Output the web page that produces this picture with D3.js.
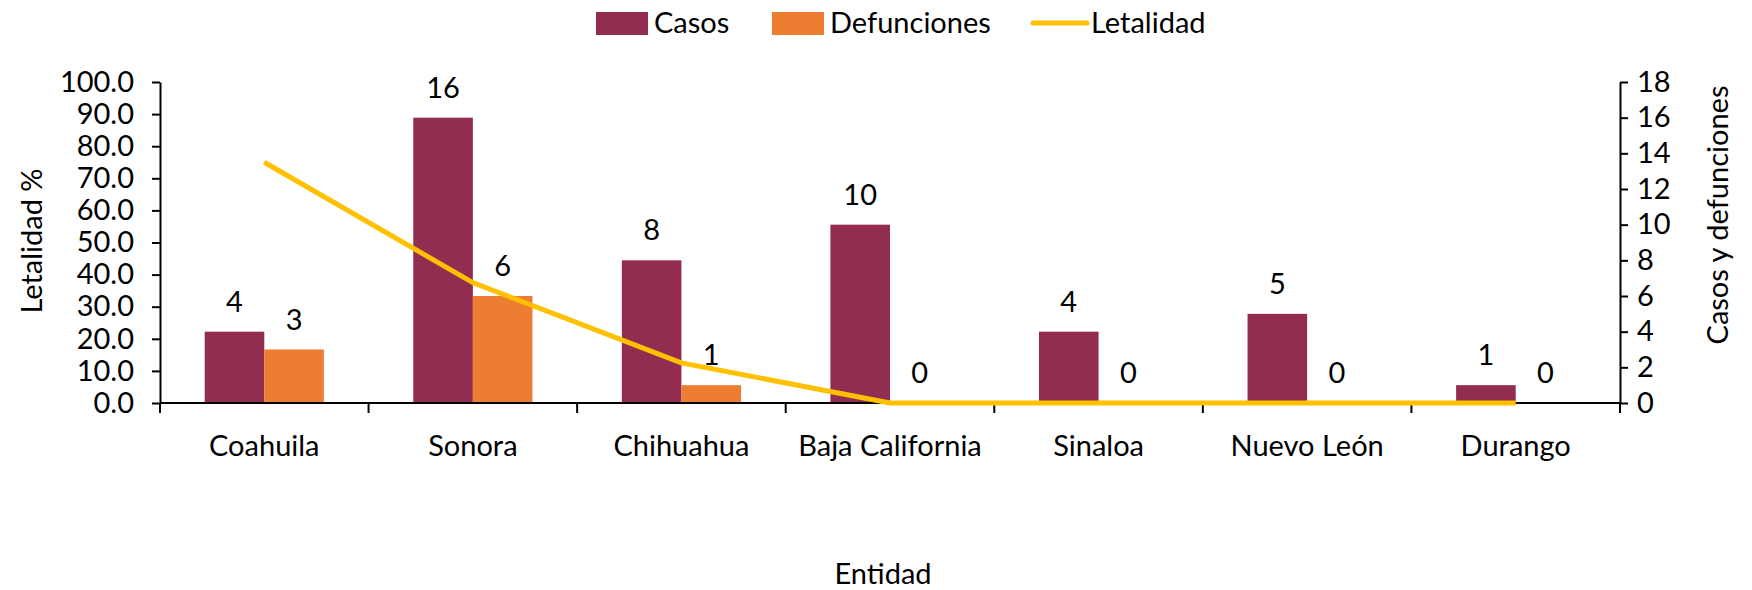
<!DOCTYPE html>
<html>
<head>
<meta charset="utf-8">
<script src="https://cdn.jsdelivr.net/npm/d3@7"></script>
<style>
  body { margin: 0; background: #fff; }
  svg text { font-family: Lato, "Open Sans", sans-serif; fill: #000; }
</style>
</head>
<body>
<div id="chart"></div>
<script>
const entidades = ['Coahuila', 'Sonora', 'Chihuahua', 'Baja California', 'Sinaloa', 'Nuevo León', 'Durango'];
const casos = [4, 16, 8, 10, 4, 5, 1];
const defunciones = [3, 6, 1, 0, 0, 0, 0];
const letalidad = [75.0, 37.5, 12.5, 0, 0, 0, 0];
const leftTicks = [0, 10, 20, 30, 40, 50, 60, 70, 80, 90, 100];
const rightTicks = [0, 2, 4, 6, 8, 10, 12, 14, 16, 18];
const seriesNames = ['Casos', 'Defunciones', 'Letalidad'];

const W = 1752, H = 590;
const margin = {top: 82, right: 132, bottom: 187, left: 160};
const width = W - margin.left - margin.right,
  height = H - margin.top - margin.bottom;
const colors = {Casos: '#922C50', Defunciones: '#ED7D31', Letalidad: '#FFC000'};
const fontSize = 29;

const svg = d3.select('#chart').append('svg')
  .attr('width', W)
  .attr('height', H);

const g = svg.append('g')
  .attr('transform', 'translate(' + margin.left + ',' + margin.top + ')');

const x = d3.scaleBand().domain(entidades).range([0, width]);
const x1 = d3.scaleBand().domain(['Casos', 'Defunciones'])
  .range([0, x.bandwidth()]).paddingOuter(0.75);
const yL = d3.scaleLinear().domain([0, 100]).range([height, 0]);
const yR = d3.scaleLinear().domain([0, 18]).range([height, 0]);

const data = entidades.map((e, i) => ({e, Casos: casos[i], Defunciones: defunciones[i], L: letalidad[i]}));

// bars
const groups = g.selectAll('.grp')
  .data(data)
  .enter().append('g')
  .attr('transform', d => 'translate(' + x(d.e) + ',0)');

['Casos', 'Defunciones'].forEach(k => {
  groups.append('rect')
    .attr('x', x1(k))
    .attr('width', x1.bandwidth())
    .attr('y', d => yR(d[k]))
    .attr('height', d => height - yR(d[k]))
    .attr('fill', colors[k]);
  groups.append('text')
    .attr('x', x1(k) + x1.bandwidth() / 2)
    .attr('y', d => yR(d[k]) - 20)
    .attr('text-anchor', 'middle')
    .style('font-size', fontSize + 'px')
    .text(d => d[k]);
});

// axes
const axisL = g.append('g')
  .call(d3.axisLeft(yL).tickValues(leftTicks).tickFormat(d3.format('.1f')).tickSize(8).tickSizeOuter(0).tickPadding(18));
const axisR = g.append('g')
  .attr('transform', 'translate(' + width + ',0)')
  .call(d3.axisRight(yR).tickValues(rightTicks).tickSize(8).tickSizeOuter(0).tickPadding(9));
[axisL, axisR].forEach(a => {
  a.selectAll('path, line').attr('stroke', '#000').attr('stroke-width', 2);
  a.selectAll('text').style('font-size', fontSize + 'px').style('font-family', 'Lato, sans-serif');
});

// category axis
const axisB = g.append('g').attr('transform', 'translate(0,' + height + ')');
axisB.append('line')
  .attr('x1', 0).attr('x2', width)
  .attr('stroke', '#000').attr('stroke-width', 2);
axisB.selectAll('.tk')
  .data(entidades.map(e => x(e)).concat([width]))
  .enter().append('line')
  .attr('x1', d => d).attr('x2', d => d)
  .attr('y1', 0).attr('y2', 10)
  .attr('stroke', '#000').attr('stroke-width', 2);
axisB.selectAll('.lbl')
  .data(entidades)
  .enter().append('text')
  .attr('x', d => x(d) + x.bandwidth() / 2)
  .attr('y', 53)
  .attr('text-anchor', 'middle')
  .style('font-size', fontSize + 'px')
  .text(d => d);

// line
const line = d3.line()
  .x(d => x(d.e) + x.bandwidth() / 2)
  .y(d => yL(d.L));
g.append('path')
  .datum(data)
  .attr('d', line)
  .attr('fill', 'none')
  .attr('stroke', colors.Letalidad)
  .attr('stroke-width', 5)
  .attr('stroke-linejoin', 'round');

// axis titles
svg.append('text')
  .attr('transform', 'translate(42,241) rotate(-90)')
  .attr('text-anchor', 'middle')
  .style('font-size', fontSize + 'px')
  .text('Letalidad %');
svg.append('text')
  .attr('transform', 'translate(1728,215) rotate(-90)')
  .attr('text-anchor', 'middle')
  .style('font-size', fontSize + 'px')
  .text('Casos y defunciones');
svg.append('text')
  .attr('x', 883)
  .attr('y', 584)
  .attr('text-anchor', 'middle')
  .style('font-size', fontSize + 'px')
  .text('Entidad');

// legend
const legX = [596, 772, 1033];
const leg = svg.append('g');
seriesNames.forEach((s, i) => {
  if (s === 'Letalidad') {
    leg.append('line')
      .attr('x1', legX[i]).attr('x2', legX[i] + 54)
      .attr('y1', 23).attr('y2', 23)
      .attr('stroke', colors[s]).attr('stroke-width', 5)
      .attr('stroke-linecap', 'round');
  } else {
    leg.append('rect')
      .attr('x', legX[i]).attr('y', 12)
      .attr('width', 52).attr('height', 23)
      .attr('fill', colors[s]);
  }
  leg.append('text')
    .attr('x', legX[i] + 58)
    .attr('y', 33)
    .style('font-size', fontSize + 'px')
    .text(s);
});
</script>
</body>
</html>
